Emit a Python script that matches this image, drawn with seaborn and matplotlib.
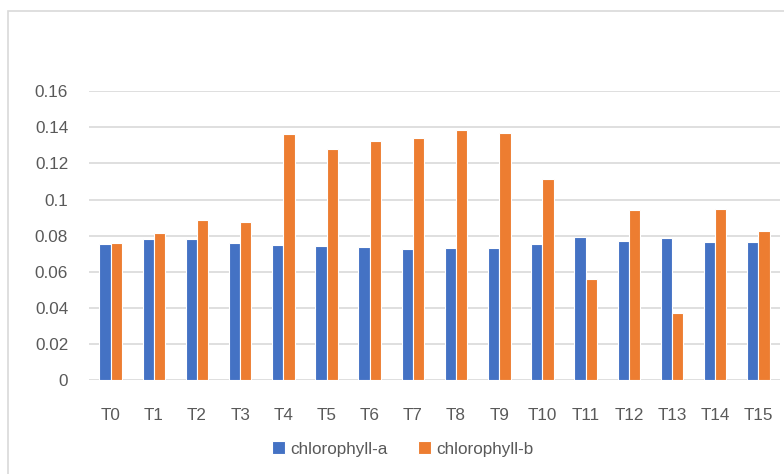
import pandas as pd
import matplotlib.pyplot as plt
import seaborn as sns
from matplotlib.patches import Rectangle

# values
treatments = ["T0", "T1", "T2", "T3", "T4", "T5", "T6", "T7",
              "T8", "T9", "T10", "T11", "T12", "T13", "T14", "T15"]
chl_a = [0.0754, 0.0780, 0.0780, 0.0758, 0.0750, 0.0741, 0.0737, 0.0726,
         0.0732, 0.0730, 0.0754, 0.0794, 0.0770, 0.0789, 0.0767, 0.0767]
chl_b = [0.0759, 0.0813, 0.0885, 0.0874, 0.1362, 0.1282, 0.1325, 0.1339,
         0.1388, 0.1371, 0.1116, 0.0560, 0.0940, 0.0370, 0.0950, 0.0828]
series = ["chlorophyll-a", "chlorophyll-b"]
colors = ["#4472C4", "#ED7D31"]
y_ticks = [0, 0.02, 0.04, 0.06, 0.08, 0.1, 0.12, 0.14, 0.16]
y_labels = ["0", "0.02", "0.04", "0.06", "0.08", "0.1", "0.12", "0.14", "0.16"]

df = pd.DataFrame({
    "Treatment": treatments * 2,
    "Value": chl_a + chl_b,
    "Series": [series[0]] * len(treatments) + [series[1]] * len(treatments),
})

sns.set_style("white")
plt.rcParams["font.family"] = ["Liberation Sans", "DejaVu Sans"]
text_color = "#595959"
fs = 12.3

fig = plt.figure(figsize=(7.84, 4.74), dpi=100)
ax = fig.add_axes([89 / 784, 1 - 380 / 474, (780 - 89) / 784, (380 - 91.3) / 474])

sns.barplot(data=df, x="Treatment", y="Value", hue="Series", palette=colors,
            saturation=1, width=0.52, edgecolor="white", linewidth=0.8,
            ax=ax, legend=True)

ax.set_ylim(0, 0.16)
ax.set_xlim(-0.5, len(treatments) - 0.5)
ax.set_yticks(y_ticks)
ax.set_yticklabels(y_labels)
ax.yaxis.grid(True, color="#D9D9D9", linewidth=1.2)
ax.set_axisbelow(True)
for s in ax.spines.values():
    s.set_visible(False)
ax.set_xlabel("")
ax.set_ylabel("")
ax.tick_params(axis="y", length=0, pad=15, labelsize=fs, labelcolor=text_color)
ax.tick_params(axis="x", length=0, pad=20, labelsize=fs, labelcolor=text_color)

handles, labels = ax.get_legend_handles_labels()
ax.get_legend().remove()
fig.legend(handles, labels, loc="center", bbox_to_anchor=(403 / 784, 1 - 449 / 474),
           ncol=2, frameon=False, fontsize=fs, labelcolor=text_color,
           handlelength=0.75, handleheight=0.75, handletextpad=0.3, columnspacing=1.8)

# chart area border
fig.patches.append(Rectangle((8 / 784, -0.1), 1.0, (474 - 11) / 474 + 0.1,
                             transform=fig.transFigure, fill=False,
                             edgecolor="#D9D9D9", linewidth=1.2))

fig.savefig("out.png", dpi=100)
